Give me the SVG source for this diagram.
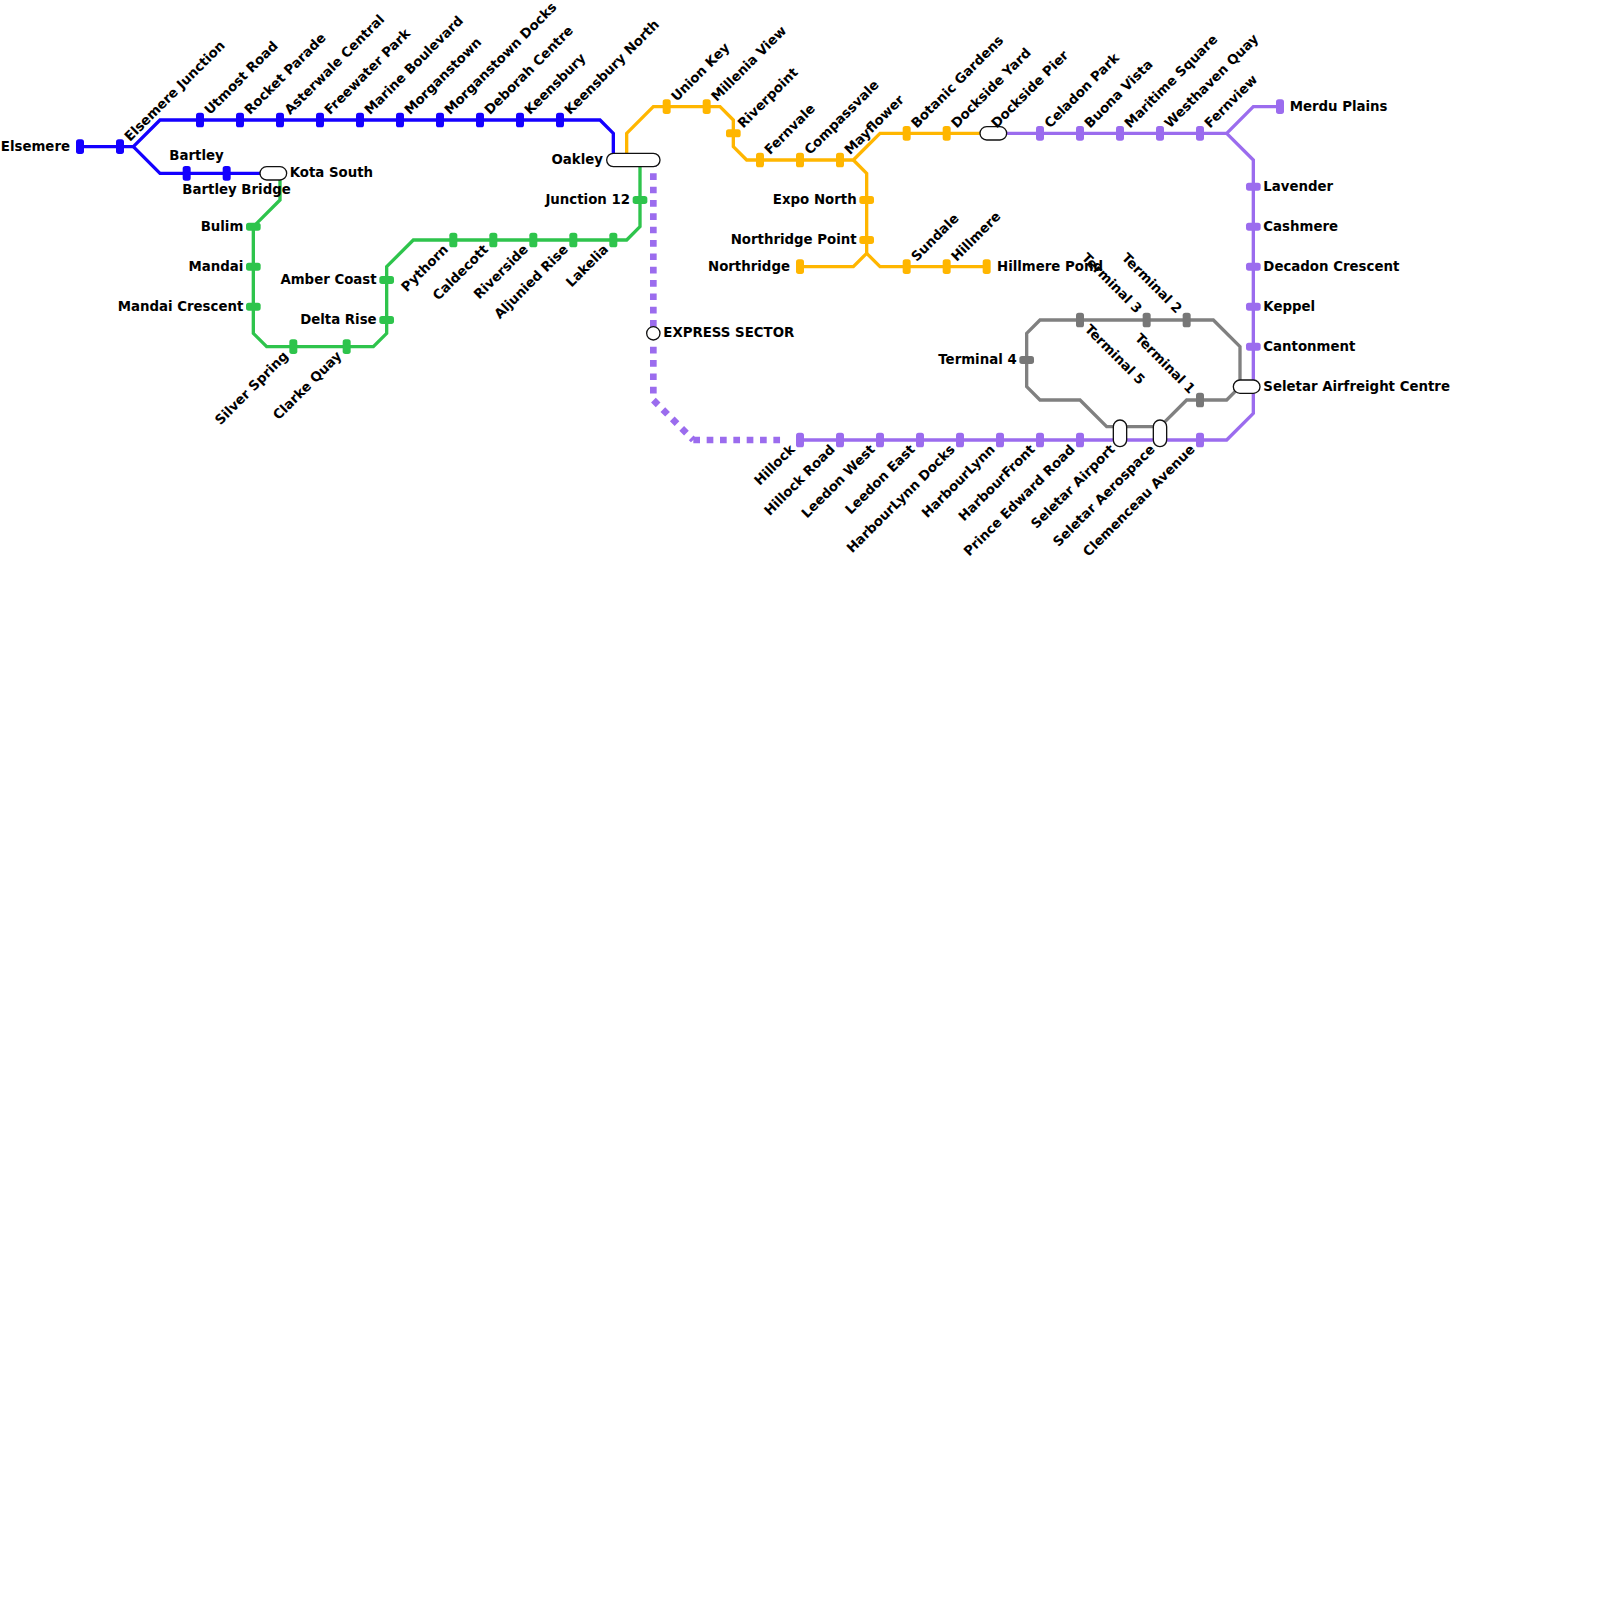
<svg xmlns="http://www.w3.org/2000/svg" width="1600" height="1600" viewBox="0 0 1600 1600">
<style>
text{font-family:"DejaVu Sans",sans-serif;font-weight:700;font-size:13.33px;fill:#000}
.e{text-anchor:end}
.l{fill:none;stroke-width:3.33;stroke-linejoin:miter}
.blue{stroke:#1400ff}.green{stroke:#2ec44c}.orange{stroke:#ffb600}.purple{stroke:#9b6cee}.gray{stroke:#808080}
.dot{stroke-width:6.67;stroke-dasharray:6.67 6.67}
.b{fill:#1400ff}.g{fill:#2ec44c}.o{fill:#ffb600}.p{fill:#9b6cee}.k{fill:#777}
.x{fill:#fff;stroke:#111;stroke-width:1.33}
</style>
<defs>
<rect id="v" x="-4" y="-7.33" width="8" height="14.67" rx="2.67"/>
<rect id="h" x="-7.33" y="-4" width="14.67" height="8" rx="2.67"/>
</defs>
<rect width="1600" height="1600" fill="#fff"/>
<g id="connectors">
<path class="l blue" d="M80 146.67H133.33L160 120H600L613.33 133.33V160"/>
<path class="l blue" d="M133.33 146.67L160 173.33H270"/>
<path class="l green" d="M280 173.33V200L253.33 226.67V333.33L266.67 346.67H373.33L386.67 333.33V266.67L413.33 240H626.67L640 226.67V160"/>
<path class="l orange" d="M626.67 160V133.33L653.33 106.67H720L733.33 120V146.67L746.67 160H853.33L880 133.33H993"/>
<path class="l orange" d="M853.33 160L866.67 173.33V253.33L853.33 266.67H800"/>
<path class="l orange" d="M866.67 253.33L880 266.67H986.67"/>
<path class="l purple" d="M993 133.33H1226.67L1253.33 106.67H1280"/>
<path class="l purple" d="M1226.67 133.33L1253.33 160V413.33L1226.67 440H800"/>
<path class="l purple dot" d="M653.33 160V400L693.33 440"/>
<path class="l purple dot" d="M693.33 440H784"/>
<path class="l gray" d="M1240 386.67V346.67L1213.33 320H1040L1026.67 333.33V386.67L1040 400H1080L1106.67 426.67H1160L1186.67 400H1226.67L1240 386.67Z"/>
</g>
<g id="nodes">
<g id="n1"><use href="#v" class="b" x="80" y="146.67"/><text class="e" x="70" y="151">Elsemere</text></g>
<g id="n2"><use href="#v" class="b" x="120" y="146.67"/><text transform="translate(130 142) rotate(-45)">Elsemere Junction</text></g>
<g id="n3"><use href="#v" class="b" x="200" y="120"/><text transform="translate(210 115.33) rotate(-45)">Utmost Road</text></g>
<g id="n4"><use href="#v" class="b" x="240" y="120"/><text transform="translate(250 115.33) rotate(-45)">Rocket Parade</text></g>
<g id="n5"><use href="#v" class="b" x="280" y="120"/><text transform="translate(290 115.33) rotate(-45)">Asterwale Central</text></g>
<g id="n6"><use href="#v" class="b" x="320" y="120"/><text transform="translate(330 115.33) rotate(-45)">Freewater Park</text></g>
<g id="n7"><use href="#v" class="b" x="360" y="120"/><text transform="translate(370 115.33) rotate(-45)">Marine Boulevard</text></g>
<g id="n8"><use href="#v" class="b" x="400" y="120"/><text transform="translate(410 115.33) rotate(-45)">Morganstown</text></g>
<g id="n9"><use href="#v" class="b" x="440" y="120"/><text transform="translate(450 115.33) rotate(-45)">Morganstown Docks</text></g>
<g id="n10"><use href="#v" class="b" x="480" y="120"/><text transform="translate(490 115.33) rotate(-45)">Deborah Centre</text></g>
<g id="n11"><use href="#v" class="b" x="520" y="120"/><text transform="translate(530 115.33) rotate(-45)">Keensbury</text></g>
<g id="n12"><use href="#v" class="b" x="560" y="120"/><text transform="translate(570 115.33) rotate(-45)">Keensbury North</text></g>
<g id="n13"><use href="#v" class="b" x="186.67" y="173.33"/><text x="169.33" y="160">Bartley</text></g>
<g id="n14"><use href="#v" class="b" x="226.67" y="173.33"/><text x="182.33" y="194">Bartley Bridge</text></g>
<g id="n15"><rect class="x" x="260" y="166.67" width="26.67" height="13.33" rx="6.67"/><text x="289.67" y="177.33">Kota South</text></g>
<g id="n16"><use href="#h" class="g" x="253.33" y="226.67"/><text class="e" x="243.33" y="231">Bulim</text></g>
<g id="n17"><use href="#h" class="g" x="253.33" y="266.67"/><text class="e" x="243.33" y="271">Mandai</text></g>
<g id="n18"><use href="#h" class="g" x="253.33" y="306.67"/><text class="e" x="243.33" y="311">Mandai Crescent</text></g>
<g id="n19"><use href="#v" class="g" x="293.33" y="346.67"/><text class="e" transform="translate(289 356.83) rotate(-45)">Silver Spring</text></g>
<g id="n20"><use href="#v" class="g" x="346.67" y="346.67"/><text class="e" transform="translate(342.33 356.83) rotate(-45)">Clarke Quay</text></g>
<g id="n21"><use href="#h" class="g" x="386.67" y="280"/><text class="e" x="376.67" y="284.33">Amber Coast</text></g>
<g id="n22"><use href="#h" class="g" x="386.67" y="320"/><text class="e" x="376.67" y="324.33">Delta Rise</text></g>
<g id="n23"><use href="#v" class="g" x="453.33" y="240"/><text class="e" transform="translate(449 250.17) rotate(-45)">Pythorn</text></g>
<g id="n24"><use href="#v" class="g" x="493.33" y="240"/><text class="e" transform="translate(489 250.17) rotate(-45)">Caldecott</text></g>
<g id="n25"><use href="#v" class="g" x="533.33" y="240"/><text class="e" transform="translate(529 250.17) rotate(-45)">Riverside</text></g>
<g id="n26"><use href="#v" class="g" x="573.33" y="240"/><text class="e" transform="translate(569 250.17) rotate(-45)">Aljunied Rise</text></g>
<g id="n27"><use href="#v" class="g" x="613.33" y="240"/><text class="e" transform="translate(609 250.17) rotate(-45)">Lakelia</text></g>
<g id="n28"><use href="#h" class="g" x="640" y="200"/><text class="e" x="630" y="204.33">Junction 12</text></g>
<g id="n29"><rect class="x" x="606.67" y="153.33" width="53.33" height="13.33" rx="6.67"/><text class="e" x="603" y="164">Oakley</text></g>
<g id="n30"><use href="#v" class="o" x="666.67" y="106.67"/><text transform="translate(676.67 102) rotate(-45)">Union Key</text></g>
<g id="n31"><use href="#v" class="o" x="706.67" y="106.67"/><text transform="translate(716.67 102) rotate(-45)">Millenia View</text></g>
<g id="n32"><use href="#h" class="o" x="733.33" y="133.33"/><text transform="translate(743.33 128.67) rotate(-45)">Riverpoint</text></g>
<g id="n33"><use href="#v" class="o" x="760" y="160"/><text transform="translate(770 155.33) rotate(-45)">Fernvale</text></g>
<g id="n34"><use href="#v" class="o" x="800" y="160"/><text transform="translate(810 155.33) rotate(-45)">Compassvale</text></g>
<g id="n35"><use href="#v" class="o" x="840" y="160"/><text transform="translate(850 155.33) rotate(-45)">Mayflower</text></g>
<g id="n36"><use href="#v" class="o" x="906.67" y="133.33"/><text transform="translate(916.67 128.67) rotate(-45)">Botanic Gardens</text></g>
<g id="n37"><use href="#v" class="o" x="946.67" y="133.33"/><text transform="translate(956.67 128.67) rotate(-45)">Dockside Yard</text></g>
<g id="n38"><rect class="x" x="980" y="126.67" width="26.67" height="13.33" rx="6.67"/><text transform="translate(996.67 128.67) rotate(-45)">Dockside Pier</text></g>
<g id="n39"><use href="#h" class="o" x="866.67" y="200"/><text class="e" x="856.67" y="204.33">Expo North</text></g>
<g id="n40"><use href="#h" class="o" x="866.67" y="240"/><text class="e" x="856.67" y="244.33">Northridge Point</text></g>
<g id="n41"><use href="#v" class="o" x="800" y="266.67"/><text class="e" x="790" y="271">Northridge</text></g>
<g id="n42"><use href="#v" class="o" x="906.67" y="266.67"/><text transform="translate(916.67 262) rotate(-45)">Sundale</text></g>
<g id="n43"><use href="#v" class="o" x="946.67" y="266.67"/><text transform="translate(956.67 262) rotate(-45)">Hillmere</text></g>
<g id="n44"><use href="#v" class="o" x="986.67" y="266.67"/><text x="997" y="271">Hillmere Pond</text></g>
<g id="n45"><use href="#v" class="p" x="1040" y="133.33"/><text transform="translate(1050 128.67) rotate(-45)">Celadon Park</text></g>
<g id="n46"><use href="#v" class="p" x="1080" y="133.33"/><text transform="translate(1090 128.67) rotate(-45)">Buona Vista</text></g>
<g id="n47"><use href="#v" class="p" x="1120" y="133.33"/><text transform="translate(1130 128.67) rotate(-45)">Maritime Square</text></g>
<g id="n48"><use href="#v" class="p" x="1160" y="133.33"/><text transform="translate(1170 128.67) rotate(-45)">Westhaven Quay</text></g>
<g id="n49"><use href="#v" class="p" x="1200" y="133.33"/><text transform="translate(1210 128.67) rotate(-45)">Fernview</text></g>
<g id="n50"><use href="#v" class="p" x="1280" y="106.67"/><text x="1289.67" y="111">Merdu Plains</text></g>
<g id="n51"><use href="#h" class="p" x="1253.33" y="186.67"/><text x="1263.33" y="191">Lavender</text></g>
<g id="n52"><use href="#h" class="p" x="1253.33" y="226.67"/><text x="1263.33" y="231">Cashmere</text></g>
<g id="n53"><use href="#h" class="p" x="1253.33" y="266.67"/><text x="1263.33" y="271">Decadon Crescent</text></g>
<g id="n54"><use href="#h" class="p" x="1253.33" y="306.67"/><text x="1263.33" y="311">Keppel</text></g>
<g id="n55"><use href="#h" class="p" x="1253.33" y="346.67"/><text x="1263.33" y="351">Cantonment</text></g>
<g id="n56"><rect class="x" x="1233.33" y="380" width="26.67" height="13.33" rx="6.67"/><text x="1263.33" y="391">Seletar Airfreight Centre</text></g>
<g id="n57"><use href="#v" class="p" x="1200" y="440"/><text class="e" transform="translate(1195.67 450.17) rotate(-45)">Clemenceau Avenue</text></g>
<g id="n58"><rect class="x" x="1153.33" y="420" width="13.33" height="26.67" rx="6.67"/><text class="e" transform="translate(1155.67 450.17) rotate(-45)">Seletar Aerospace</text></g>
<g id="n59"><rect class="x" x="1113.33" y="420" width="13.33" height="26.67" rx="6.67"/><text class="e" transform="translate(1115.67 450.17) rotate(-45)">Seletar Airport</text></g>
<g id="n60"><use href="#v" class="p" x="1080" y="440"/><text class="e" transform="translate(1075.67 450.17) rotate(-45)">Prince Edward Road</text></g>
<g id="n61"><use href="#v" class="p" x="1040" y="440"/><text class="e" transform="translate(1035.67 450.17) rotate(-45)">HarbourFront</text></g>
<g id="n62"><use href="#v" class="p" x="1000" y="440"/><text class="e" transform="translate(995.67 450.17) rotate(-45)">HarbourLynn</text></g>
<g id="n63"><use href="#v" class="p" x="960" y="440"/><text class="e" transform="translate(955.67 450.17) rotate(-45)">HarbourLynn Docks</text></g>
<g id="n64"><use href="#v" class="p" x="920" y="440"/><text class="e" transform="translate(915.67 450.17) rotate(-45)">Leedon East</text></g>
<g id="n65"><use href="#v" class="p" x="880" y="440"/><text class="e" transform="translate(875.67 450.17) rotate(-45)">Leedon West</text></g>
<g id="n66"><use href="#v" class="p" x="840" y="440"/><text class="e" transform="translate(835.67 450.17) rotate(-45)">Hillock Road</text></g>
<g id="n67"><use href="#v" class="p" x="800" y="440"/><text class="e" transform="translate(795.67 450.17) rotate(-45)">Hillock</text></g>
<g id="n68"><circle class="x" cx="653.33" cy="333.33" r="6.67"/><text x="663.33" y="337.33">EXPRESS SECTOR</text></g>
<g id="n69"><use href="#v" class="k" x="1080" y="320"/><text transform="translate(1084 330) rotate(45)">Terminal 5</text></g>
<g id="n70"><use href="#v" class="k" x="1146.67" y="320"/><text class="e" transform="translate(1136.33 314) rotate(45)">Terminal 3</text></g>
<g id="n71"><use href="#v" class="k" x="1186.67" y="320"/><text class="e" transform="translate(1176.33 314) rotate(45)">Terminal 2</text></g>
<g id="n72"><use href="#h" class="k" x="1026.67" y="360"/><text class="e" x="1016.67" y="364.33">Terminal 4</text></g>
<g id="n73"><use href="#v" class="k" x="1200" y="400"/><text class="e" transform="translate(1189.67 394.33) rotate(45)">Terminal 1</text></g>
</g>
</svg>
